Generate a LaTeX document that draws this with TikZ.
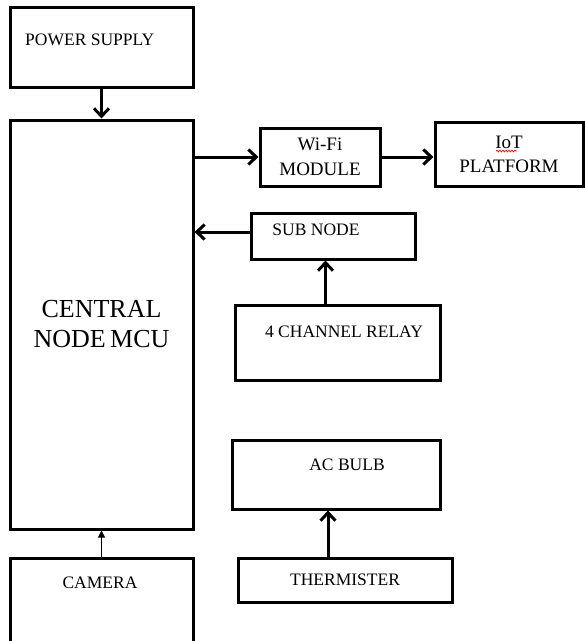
\documentclass[tikz,border=0pt]{standalone}
\usepackage{fontspec}
\setmainfont{Liberation Serif}
\usetikzlibrary{arrows.meta,positioning,decorations.pathmorphing}

\begin{document}
\begin{tikzpicture}[x=1pt,y=-1pt,font=\fontsize{17.5}{21}\selectfont,
  blockbox/.style={draw,line width=3pt,inner sep=0pt},
  flowarrow/.style={line width=3pt,-{Straight Barb[length=8pt,width=15pt,line width=3pt]}},
  thinarrow/.style={line width=0.8pt,-{Triangle[length=7pt,width=7pt]}}]
  \useasboundingbox (0,0) rectangle (585,641);
  \clip (0,0) rectangle (585,641);
  % left column
  \node[blockbox,minimum width=183pt,minimum height=80pt] (power) at (101.5,47) {};
  \node[anchor=west,inner sep=0pt] (powertxt) at (25,40) {POWER SUPPLY};
  \node[blockbox,minimum width=183pt,minimum height=409pt,align=center,font=\fontsize{26}{30}\selectfont] (central) at (101.5,324.5) {CENTRAL\\NODE\kern-2pt{} MCU};
  \node[blockbox,minimum width=183pt,minimum height=110pt] (camera) at (101.5,613) {};
  \node (cameratxt) at (100,583) {CAMERA};
  % right side
  \node[blockbox,minimum width=120pt,minimum height=58pt,align=center,font=\fontsize{19}{25}\selectfont] (wifi) at (320,157) {Wi-Fi\\MODULE};
  \node[blockbox,minimum width=148pt,minimum height=64pt,align=center,font=\fontsize{19}{24}\selectfont] (iot) at (509,154) {IoT\\PLATFORM};
  \node[blockbox,minimum width=164pt,minimum height=46pt] (sub) at (333,236) {};
  \node (subtxt) at (316,230) {SUB NODE};
  \node[blockbox,minimum width=205pt,minimum height=75pt] (relay) at (337.5,342.5) {};
  \node (relaytxt) at (344,332) {4 CHANNEL RELAY};
  \node[blockbox,minimum width=208pt,minimum height=69pt] (bulb) at (336,474.5) {};
  \node (bulbtxt) at (347,465) {AC BULB};
  \node[blockbox,minimum width=214pt,minimum height=44pt] (therm) at (345,580) {THERMISTER};
  % spell check mark under IoT
  \draw[red,line width=0.7pt,decorate,decoration={snake,amplitude=0.9pt,segment length=3pt}]
    ([xshift=-13pt,yshift=3pt]iot.center) -- ([xshift=8pt,yshift=3pt]iot.center);
  % connectors
  \draw[flowarrow] (power) -- (central);
  \draw[flowarrow] (central.east |- wifi) -- (wifi);
  \draw[flowarrow] (wifi.east) -- (wifi.east -| iot.west);
  \draw[flowarrow] ([yshift=4pt]sub.west) -- ([yshift=4pt]sub.west -| central.east);
  \draw[flowarrow] ([xshift=-12pt]relay.north) -- ([xshift=-12pt]relay.north |- sub.south);
  \draw[flowarrow] ([xshift=-17pt]therm.north) -- ([xshift=-17pt]therm.north |- bulb.south);
  \draw[thinarrow] (camera.north) -- (central.south);
\end{tikzpicture}
\end{document}
